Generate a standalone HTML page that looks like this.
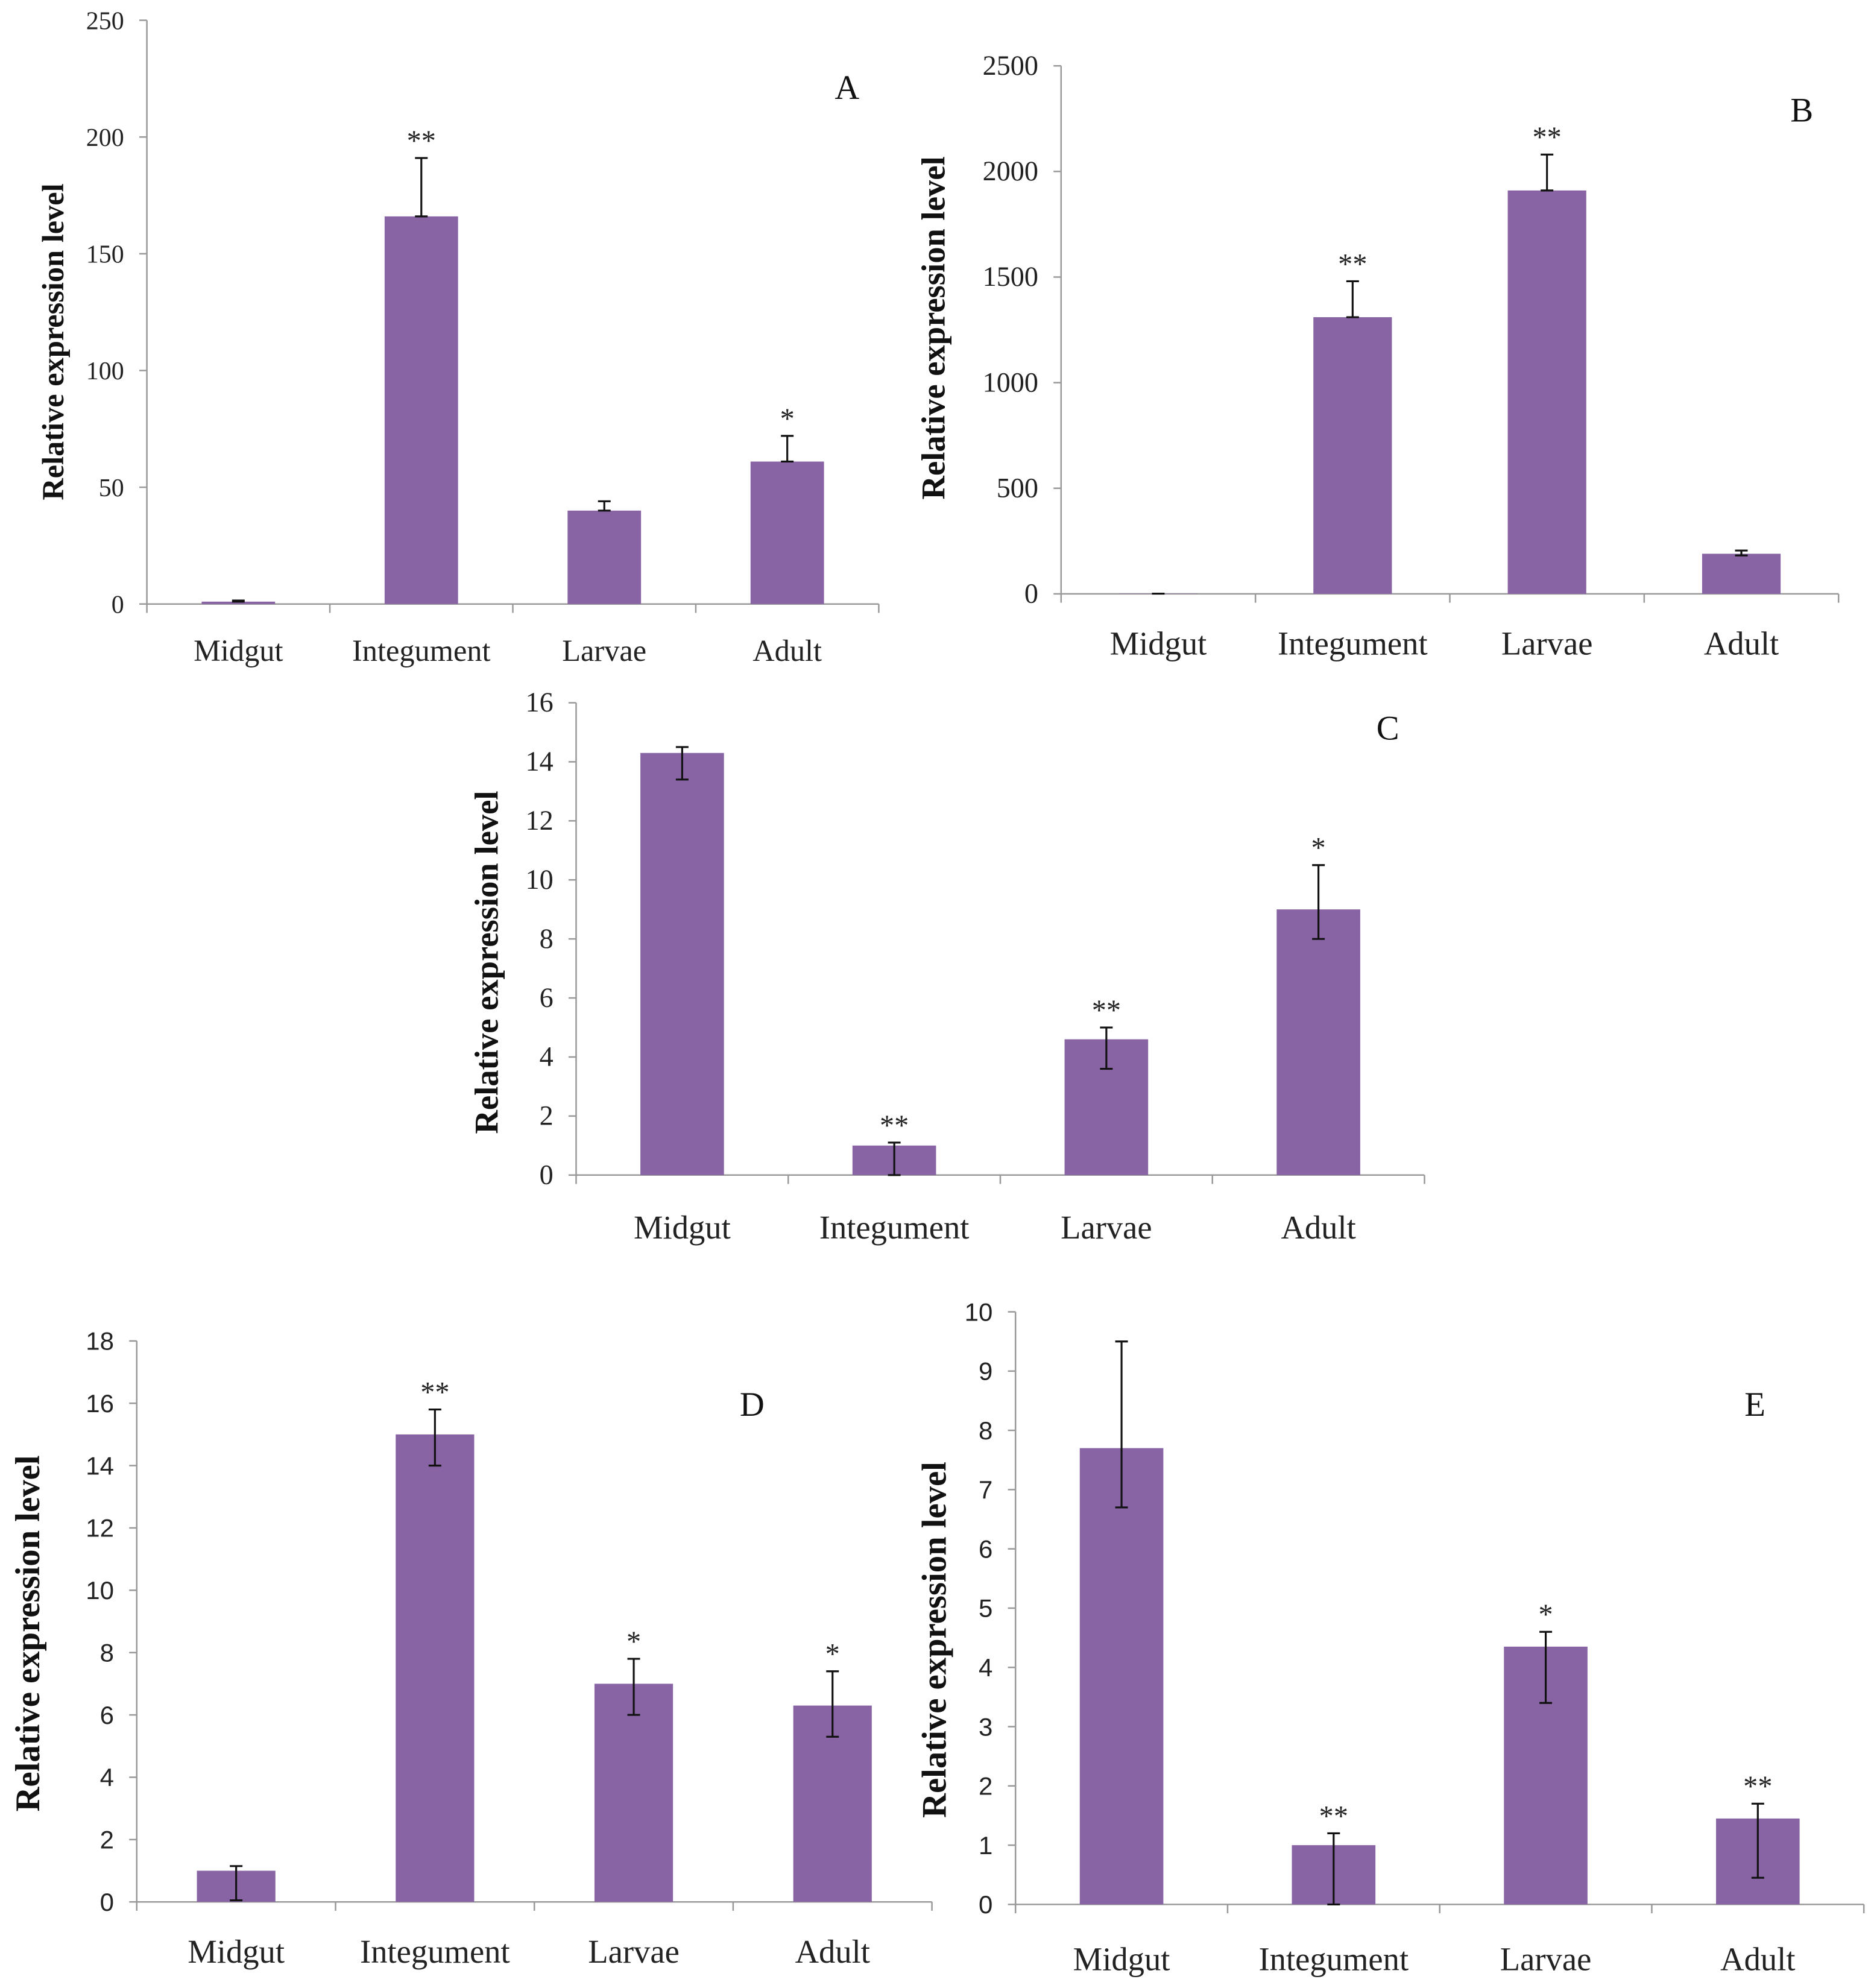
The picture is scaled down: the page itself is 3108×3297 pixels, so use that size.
<!DOCTYPE html>
<html><head><meta charset="utf-8"><style>
html,body{margin:0;padding:0;background:#fff;}
svg{display:block;}
</style></head><body>
<svg id="fig" width="3108" height="3297" viewBox="0 0 1480 1570" xmlns="http://www.w3.org/2000/svg"></svg>
<script>
const categories = ["Midgut","Integument","Larvae","Adult"];
const aValues = [1, 166, 40, 61];
const aErrHi = [1.5, 191, 44, 72];
const aErrLo = [1, 166, 40, 61];
const aSig = ["", "**", "", "*"];
const aTicks = [0,50,100,150,200,250];
const bValues = [1, 1310, 1910, 190];
const bErrHi = [1, 1480, 2080, 205];
const bErrLo = [1, 1310, 1910, 182];
const bSig = ["", "**", "**", ""];
const bTicks = [0,500,1000,1500,2000,2500];
const cValues = [14.3, 1.0, 4.6, 9.0];
const cErrHi = [14.5, 1.1, 5.0, 10.5];
const cErrLo = [13.4, 0, 3.6, 8.0];
const cSig = ["", "**", "**", "*"];
const cTicks = [0,2,4,6,8,10,12,14,16];
const dValues = [1.0, 15.0, 7.0, 6.3];
const dErrHi = [1.15, 15.8, 7.8, 7.4];
const dErrLo = [0.05, 14.0, 6.0, 5.3];
const dSig = ["", "**", "*", "*"];
const dTicks = [0,2,4,6,8,10,12,14,16,18];
const eValues = [7.7, 1.0, 4.35, 1.45];
const eErrHi = [9.5, 1.2, 4.6, 1.7];
const eErrLo = [6.7, 0, 3.4, 0.45];
const eSig = ["", "**", "*", "**"];
const eTicks = [0,1,2,3,4,5,6,7,8,9,10];

const NS="http://www.w3.org/2000/svg";
const svg=document.getElementById('fig');
function mk(tag,attrs,parent){const e=document.createElementNS(NS,tag);for(const k in attrs)e.setAttribute(k,attrs[k]);(parent||svg).appendChild(e);return e;}

function panel(id,cfg,vals,hi,lo,sig,ticks){
  const g=mk('g',{});
  
  
  const max=ticks[ticks.length-1];
  const y=v=>cfg.y0-(v/max)*(cfg.y0-cfg.yTop);
  const slot=(cfg.xEnd-cfg.x0)/categories.length;
  const cx=i=>cfg.x0+slot*(i+0.5);
  const tf=cfg.sans?'"Liberation Sans", sans-serif':'"Liberation Serif", serif';
  const ya=mk('line',{x1:cfg.x0,y1:cfg.yTop,x2:cfg.x0,y2:cfg.y0,stroke:'#999','stroke-width':1.2},g);
  
  
  ticks.forEach(t=>{
    mk('line',{x1:cfg.x0-6,y1:y(t),x2:cfg.x0,y2:y(t),stroke:'#999','stroke-width':1.2},g);
    const tl=mk('text',{x:cfg.x0-18,y:y(t)+7,'text-anchor':'end','font-family':tf,'font-size':cfg.tickSize,fill:'#222'},g);
    tl.textContent=t;
    
    
  });
  const xa=mk('line',{x1:cfg.x0,y1:cfg.y0,x2:cfg.xEnd,y2:cfg.y0,stroke:'#999','stroke-width':1.2},g);
  
  
  for(let i=0;i<=categories.length;i++){
    mk('line',{x1:cfg.x0+slot*i,y1:cfg.y0,x2:cfg.x0+slot*i,y2:cfg.y0+7,stroke:'#999','stroke-width':1.2},g);
  }
  categories.forEach((c,i)=>{
    const b=mk('rect',{x:cx(i)-cfg.bw/2,y:y(vals[i]),width:cfg.bw,height:cfg.y0-y(vals[i]),fill:'#8864a5'},g);
    
    
    const eb=mk('path',{d:`M${cx(i)} ${y(lo[i])}V${y(hi[i])}M${cx(i)-5} ${y(hi[i])}H${cx(i)+5}M${cx(i)-5} ${y(lo[i])}H${cx(i)+5}`,stroke:'#111','stroke-width':1.5,fill:'none'},g);
    
    
    if(sig[i]){
      const s=mk('text',{x:cx(i),y:y(hi[i])-6,'text-anchor':'middle','font-family':'"Liberation Serif", serif','font-size':23,fill:'#222'},g);
      s.textContent=sig[i];
      
      
    }
    const cl=mk('text',{x:cx(i),y:cfg.labY,'text-anchor':'middle','font-family':'"Liberation Serif", serif','font-size':cfg.catSize,fill:'#222'},g);
    cl.textContent=c;
    
    
  });
  const tt=mk('text',{x:cfg.titleX,y:cfg.titleY,'text-anchor':'middle','font-family':'"Liberation Serif", serif','font-size':cfg.titleSize,'font-weight':'bold',fill:'#111',transform:`rotate(-90 ${cfg.titleX} ${cfg.titleY})`},g);
  tt.textContent='Relative expression level';
  
  
  const pl=mk('text',{x:cfg.letX,y:cfg.letY,'text-anchor':'middle','font-family':'"Liberation Serif", serif','font-size':27,fill:'#111'},g);
  pl.textContent=id;
  
  
}

panel('A',{x0:116,xEnd:694,y0:477,yTop:16,bw:58,labY:522,titleX:50,titleY:270,letX:669,letY:78,tickSize:20,catSize:24,titleSize:24},aValues,aErrHi,aErrLo,aSig,aTicks);
panel('B',{x0:838,xEnd:1452,y0:469,yTop:52,bw:62,labY:517,titleX:746,titleY:259,letX:1423,letY:96,tickSize:22,catSize:26,titleSize:26},bValues,bErrHi,bErrLo,bSig,bTicks);
panel('C',{x0:455,xEnd:1125,y0:928,yTop:555,bw:66,labY:978,titleX:393,titleY:760,letX:1096,letY:584,tickSize:22,catSize:26,titleSize:26},cValues,cErrHi,cErrLo,cSig,cTicks);
panel('D',{x0:108,xEnd:736,y0:1502,yTop:1059,bw:62,labY:1550,titleX:31,titleY:1290,letX:594,letY:1118,tickSize:20,catSize:26,titleSize:27,sans:true},dValues,dErrHi,dErrLo,dSig,dTicks);
panel('E',{x0:802,xEnd:1472,y0:1504,yTop:1036,bw:66,labY:1556,titleX:747,titleY:1295,letX:1386,letY:1118,tickSize:20,catSize:26,titleSize:27,sans:true},eValues,eErrHi,eErrLo,eSig,eTicks);
</script>
</body></html>
